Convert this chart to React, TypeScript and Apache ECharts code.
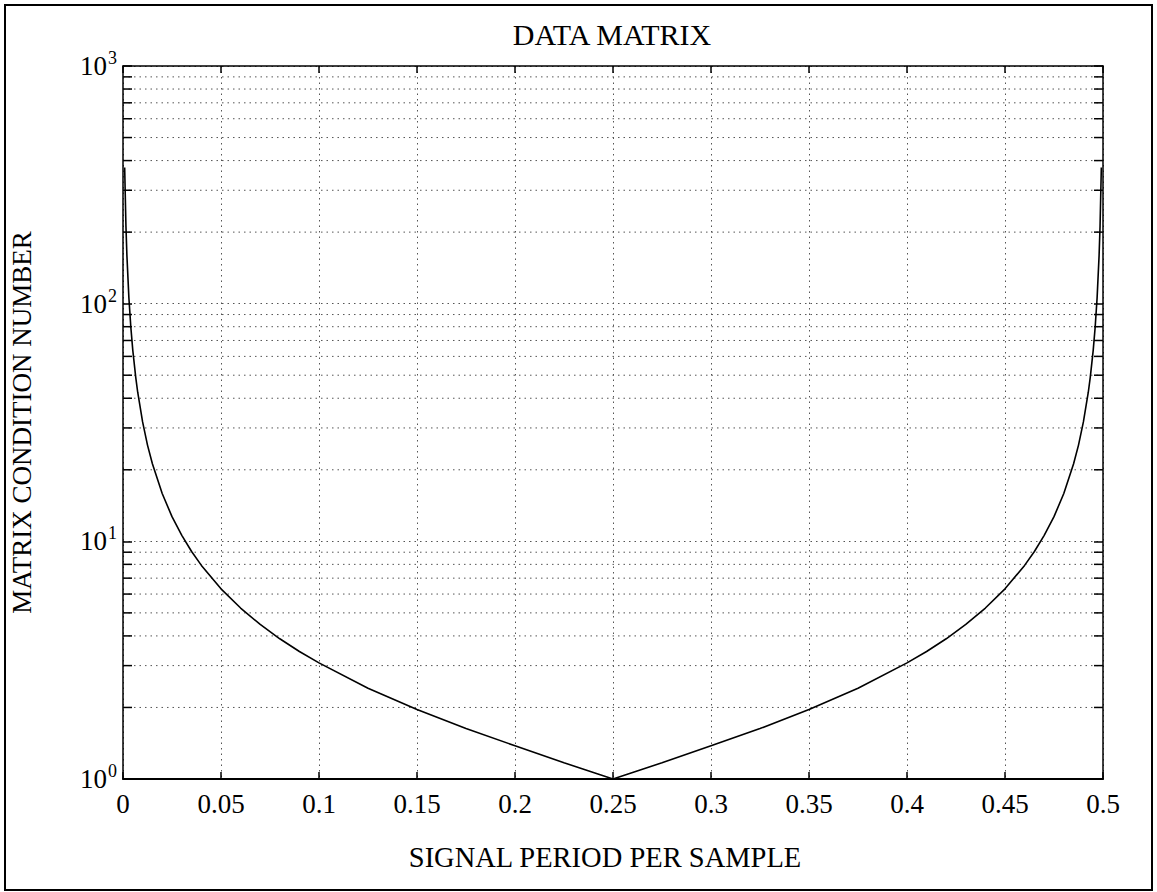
import React, { useEffect, useRef } from "react";
import * as echarts from "echarts";

const periods = [
  0.00085, 0.0015, 0.002, 0.003, 0.004, 0.005, 0.0065, 0.0075, 0.01, 0.0125,
  0.015, 0.02, 0.025, 0.03, 0.035, 0.04, 0.05, 0.06, 0.07, 0.08, 0.09, 0.1,
  0.125, 0.15, 0.175, 0.2, 0.225, 0.25, 0.275, 0.3, 0.325, 0.35, 0.375, 0.4,
  0.41, 0.42, 0.43, 0.44, 0.45, 0.46, 0.465, 0.47, 0.475, 0.48, 0.485, 0.4875,
  0.49, 0.4925, 0.4935, 0.495, 0.496, 0.497, 0.498, 0.4985, 0.49915,
];
const conditionNumbers = [
  374, 212, 159, 106, 79.6, 63.6, 49.0, 42.4, 31.8, 25.4, 21.2, 15.9, 12.7,
  10.6, 9.06, 7.92, 6.31, 5.24, 4.47, 3.89, 3.44, 3.08, 2.41, 1.96, 1.63, 1.38,
  1.17, 1.0, 1.17, 1.38, 1.63, 1.96, 2.41, 3.08, 3.44, 3.89, 4.47, 5.24, 6.31,
  7.92, 9.06, 10.6, 12.7, 15.9, 21.2, 25.4, 31.8, 42.4, 49.0, 63.6, 79.6, 106,
  159, 212, 374,
];
const minorValues = [
  2, 3, 4, 5, 6, 7, 8, 9, 20, 30, 40, 50, 60, 70, 80, 90, 200, 300, 400, 500,
  600, 700, 800, 900,
];

const FONT = "Liberation Serif";
const DOT: any = [1.5, 4];

export default function App() {
  const ref = useRef<HTMLDivElement>(null);
  useEffect(() => {
    if (!ref.current) return;
    const chart = echarts.init(ref.current, null, { renderer: "svg" });
    const tickLen = 9;
    chart.setOption({
      animation: false,
      backgroundColor: "#ffffff",
      graphic: [
        {
          type: "rect",
          shape: { x: 5, y: 5, width: 1147, height: 885 },
          style: { fill: "none", stroke: "#000", lineWidth: 2 },
          silent: true,
        },
        {
          type: "text",
          x: 612,
          y: 34,
          style: {
            text: "DATA MATRIX",
            fontFamily: FONT,
            fontSize: 30,
            fill: "#000",
            align: "center",
            verticalAlign: "middle",
          },
          silent: true,
        },
      ],
      grid: { left: 121, top: 66, width: 982, height: 713, containLabel: false },
      xAxis: [
        {
          type: "value",
          min: 0,
          max: 0.5,
          interval: 0.05,
          position: "bottom",
          name: "SIGNAL PERIOD PER SAMPLE",
          nameLocation: "middle",
          nameGap: 64,
          nameTextStyle: { fontFamily: FONT, fontSize: 28.5, color: "#000", padding: [0, 16, 0, 0] },
          axisLine: { show: true, onZero: false, lineStyle: { color: "#000", width: 2 } },
          axisTick: { show: true, inside: true, length: 7, lineStyle: { color: "#000", width: 1.5 } },
          axisLabel: {
            fontFamily: FONT,
            fontSize: 27,
            color: "#000",
            margin: 11,
            formatter: (v: number) => String(+v.toFixed(2)),
          },
          splitLine: { show: true, lineStyle: { color: "#555", width: 1, type: DOT } },
        },
        {
          type: "value",
          min: 0,
          max: 0.5,
          interval: 0.05,
          position: "top",
          axisLine: { show: true, onZero: false, lineStyle: { color: "#000", width: 1.5 } },
          axisTick: { show: true, inside: true, length: 7, lineStyle: { color: "#000", width: 1.5 } },
          axisLabel: { show: false },
          splitLine: { show: false },
        },
      ],
      yAxis: [
        {
          type: "log",
          logBase: 10,
          min: 1,
          max: 1000,
          position: "left",
          name: "MATRIX CONDITION NUMBER",
          nameLocation: "middle",
          nameGap: 88,
          nameRotate: 90,
          nameTextStyle: { fontFamily: FONT, fontSize: 27, color: "#000" },
          axisLine: { show: true, onZero: false, lineStyle: { color: "#000", width: 1.5 } },
          axisTick: { show: true, inside: true, length: tickLen, lineStyle: { color: "#000", width: 1.5 } },
          axisLabel: {
            margin: 6,
            formatter: (v: number) => `{b|10}{s|${Math.round(Math.log10(v))}}`,
            rich: {
              b: { fontFamily: FONT, fontSize: 27, color: "#000" },
              s: { fontFamily: FONT, fontSize: 18, color: "#000", padding: [0, 0, 16, 1] },
            },
          },
          splitLine: { show: true, lineStyle: { color: "#555", width: 1, type: DOT } },
          minorTick: { show: false },
          minorSplitLine: { show: false },
        },
        {
          type: "log",
          logBase: 10,
          min: 1,
          max: 1000,
          position: "right",
          axisLine: { show: true, onZero: false, lineStyle: { color: "#000", width: 1.5 } },
          axisTick: { show: true, inside: true, length: tickLen, lineStyle: { color: "#000", width: 1.5 } },
          axisLabel: { show: false },
          splitLine: { show: false },
        },
      ],
      series: [
        {
          type: "custom",
          xAxisIndex: 0,
          yAxisIndex: 0,
          silent: true,
          data: minorValues.map((v) => [0, v]),
          renderItem: (params: any, api: any) => {
            const cs = params.coordSys;
            const p = api.coord([0, api.value(1)]);
            const y = p[1];
            const x0 = cs.x;
            const x1 = cs.x + cs.width;
            return {
              type: "group",
              children: [
                {
                  type: "line",
                  shape: { x1: x0, y1: y, x2: x1, y2: y },
                  style: { stroke: "#555", lineWidth: 1, lineDash: DOT },
                },
                {
                  type: "line",
                  shape: { x1: x0, y1: y, x2: x0 + tickLen, y2: y },
                  style: { stroke: "#000", lineWidth: 1.5 },
                },
                {
                  type: "line",
                  shape: { x1: x1 - tickLen, y1: y, x2: x1, y2: y },
                  style: { stroke: "#000", lineWidth: 1.5 },
                },
              ],
            };
          },
          z: 1,
        },
        {
          type: "line",
          xAxisIndex: 0,
          yAxisIndex: 0,
          data: periods.map((p, i) => [p, conditionNumbers[i]]),
          showSymbol: false,
          symbol: "none",
          smooth: false,
          lineStyle: { color: "#000", width: 1.6 },
          z: 3,
        },
      ],
    });
    return () => chart.dispose();
  }, []);
  return (
    <div
      ref={ref}
      style={{ position: "fixed", left: 0, top: 0, width: 1157, height: 892, background: "#fff" }}
    />
  );
}
